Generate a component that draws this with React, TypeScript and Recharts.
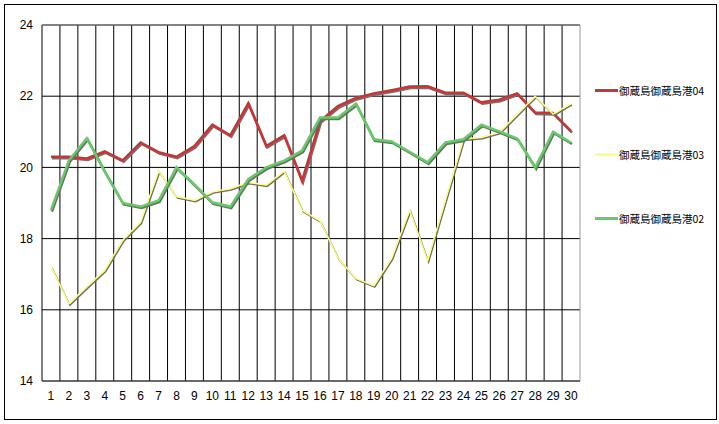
import React from 'react';
import { LineChart, Line, XAxis, YAxis, CartesianGrid, ReferenceLine } from 'recharts';

const days = Array.from({ length: 30 }, (_, i) => i + 1);
const s04 = [20.3, 20.3, 20.25, 20.45, 20.2, 20.7, 20.43, 20.3, 20.6, 21.2, 20.9, 21.8, 20.6, 20.9, 19.62, 21.3, 21.72, 21.95, 22.08, 22.17, 22.27, 22.28, 22.1, 22.1, 21.83, 21.9, 22.08, 21.54, 21.53, 21.02];
const s03 = [17.22, 16.17, 16.65, 17.12, 17.96, 18.47, 19.9, 19.18, 19.08, 19.32, 19.41, 19.58, 19.51, 19.9, 18.8, 18.5, 17.46, 16.88, 16.68, 17.46, 18.8, 17.38, 19.1, 20.8, 20.85, 20.99, 21.5, 22.0, 21.5, 21.8];
const s02 = [18.8, 20.2, 20.82, 19.88, 19.0, 18.9, 19.07, 20.0, 19.52, 19.02, 18.9, 19.67, 20.0, 20.19, 20.47, 21.4, 21.4, 21.79, 20.79, 20.73, 20.44, 20.14, 20.7, 20.79, 21.2, 21.01, 20.81, 20.0, 21.0, 20.7];
const yTicks = [14, 16, 18, 20, 22, 24];
const boundaries = Array.from({ length: 31 }, (_, i) => i + 0.5);

const seriesNames = { s04: '御蔵島御蔵島港04', s03: '御蔵島御蔵島港03', s02: '御蔵島御蔵島港02' };
const colors = { s04: '#cc3333', s03: '#ffff80', s02: '#66cc66' };

const data = days.map((d, i) => ({ day: d, s04: s04[i], s03: s03[i], s02: s02[i] }));

const legendItems: Array<'s04' | 's03' | 's02'> = ['s04', 's03', 's02'];

const tickStyle = { fontFamily: '"Liberation Sans", Arial, sans-serif', fontSize: 12, fill: '#000' };

export default function App() {
  return (
    <div style={{ position: 'absolute', left: 0, top: 0, width: 719, height: 424, background: '#fff' }}>
      <style>{`.shadowline { transform: translate(1px, 1.5px); }`}</style>
      <div style={{ position: 'absolute', left: 4, top: 4, width: 711, height: 414, border: '1px solid #000', pointerEvents: 'none' }} />
      <LineChart width={719} height={424} data={data} margin={{ top: 25, right: 139, left: 2, bottom: 23 }}>
        <CartesianGrid horizontal={true} vertical={false} stroke="#000" strokeOpacity={1} />
        {boundaries.map((b, i) => (
          <ReferenceLine key={b} x={b} stroke={i === boundaries.length - 1 ? '#999' : '#000'} strokeWidth={1} />
        ))}
        <ReferenceLine y={24} stroke="#888" />
        <ReferenceLine y={14} stroke="#555" />
        <XAxis
          dataKey="day"
          type="number"
          domain={[0.5, 30.5]}
          ticks={days}
          interval={0}
          axisLine={false}
          tickLine={false}
          tickMargin={4}
          height={20}
          tick={tickStyle}
          allowDataOverflow
        />
        <YAxis
          type="number"
          domain={[14, 24]}
          ticks={yTicks}
          axisLine={false}
          tickLine={false}
          tickMargin={3}
          width={40}
          tick={tickStyle}
        />
        <Line className="shadowline" dataKey="s04" stroke="#707070" strokeWidth={2.5} dot={false} isAnimationActive={false} />
        <Line dataKey="s04" stroke={colors.s04} strokeWidth={2.5} dot={false} isAnimationActive={false} />
        <Line className="shadowline" dataKey="s03" stroke="#707070" strokeWidth={1.5} dot={false} isAnimationActive={false} />
        <Line dataKey="s03" stroke={colors.s03} strokeWidth={1.5} dot={false} isAnimationActive={false} />
        <Line className="shadowline" dataKey="s02" stroke="#707070" strokeWidth={2.5} dot={false} isAnimationActive={false} />
        <Line dataKey="s02" stroke={colors.s02} strokeWidth={2.5} dot={false} isAnimationActive={false} />
      </LineChart>
      <div style={{ position: 'absolute', left: 595, top: 83, width: 124, height: 200 }}>
        {legendItems.map((k, i) => (
          <div key={k} style={{ position: 'absolute', left: 0, top: i * 64, display: 'flex', alignItems: 'center', height: 14, whiteSpace: 'nowrap' }}>
            <div style={{ width: 23, height: 3, background: colors[k] }} />
            <span style={{ fontFamily: '"Noto Sans CJK JP", sans-serif', fontSize: 10.5, color: '#000', marginLeft: 1 }}>{seriesNames[k]}</span>
          </div>
        ))}
      </div>
    </div>
  );
}
